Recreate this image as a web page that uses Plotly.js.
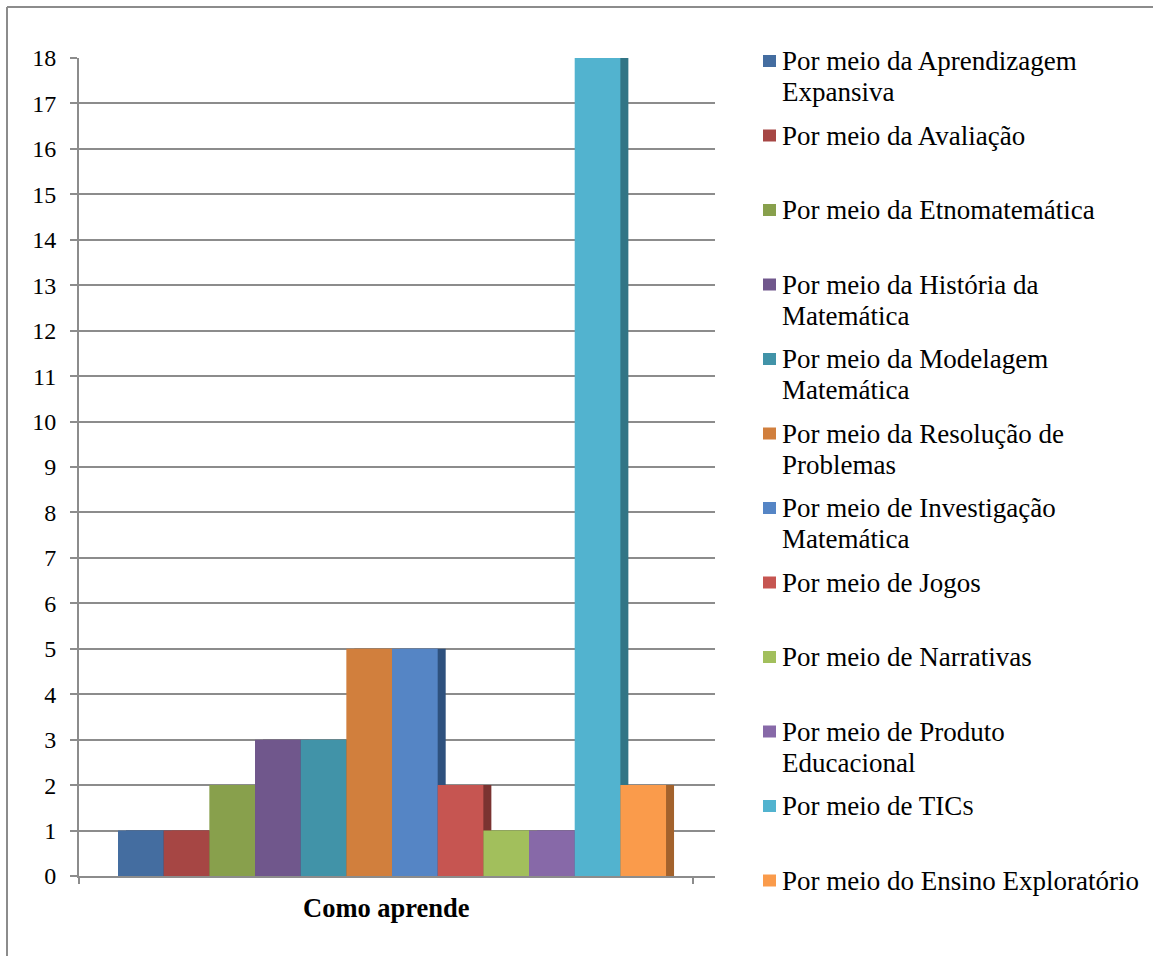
<!DOCTYPE html>
<html>
<head>
<meta charset="utf-8">
<script src="https://cdn.plot.ly/plotly-3.0.1.min.js"></script>
<style>
  html, body { margin: 0; padding: 0; background: #ffffff; }
  #chart { width: 1153px; height: 956px; }
</style>
</head>
<body>
<div id="chart"></div>
<script>
// ---- Data ----
const categories = ["Como aprende"];
const seriesNames = [
  "Por meio da Aprendizagem<br>Expansiva",
  "Por meio da Avaliação",
  "Por meio da Etnomatemática",
  "Por meio da História da<br>Matemática",
  "Por meio da Modelagem<br>Matemática",
  "Por meio da Resolução de<br>Problemas",
  "Por meio de Investigação<br>Matemática",
  "Por meio de Jogos",
  "Por meio de Narrativas",
  "Por meio de Produto<br>Educacional",
  "Por meio de TIC<span style='font-size:21px'>S</span>",
  "Por meio do Ensino Exploratório"
];
const seriesValues = [1, 1, 2, 3, 3, 5, 5, 2, 1, 1, 18, 2];
const yTickValues = [0,1,2,3,4,5,6,7,8,9,10,11,12,13,14,15,16,17,18];

// ---- Styles ----
const frontColors = ["#446DA0","#A64644","#88A04C","#70578C","#4193A8","#D17F3D",
                     "#5585C5","#C65551","#A2BF5C","#8769A8","#52B3CF","#FA9B4B"];
const sideColors  = ["#2C4A70","#733030","#5E7034","#4D3C62","#2C6776","#93592A",
                     "#2E517E","#7A3331","#71853F","#5E4975","#317586","#A3622C"];

const W = 1153, H = 956;
const plotL = 79, plotR = 715, plotT = 58, plotB = 876;
const pxPerUnit = 614;                 // distance between category boundary ticks
const barLeftPx = 118, barWPx = 45.67, sideDepthPx = 8;
const serif = "'Times New Roman', 'Liberation Serif', Tinos, 'DejaVu Serif', serif";
const gridGray = "#8C8C8C";

const toX = px => (px - plotL) / pxPerUnit;                 // data x
const pX = px => (px - plotL) / (plotR - plotL);            // paper x
const pY = py => (plotB - py) / (plotB - plotT);            // paper y

const barW = barWPx / pxPerUnit;
const sideD = sideDepthPx / pxPerUnit;
const startX = toX(barLeftPx);

const traces = [];
// side (depth) faces first, drawn behind
seriesValues.forEach((v, i) => {
  traces.push({
    type: "bar", x: [0], y: [v], base: 0,
    offset: startX + i * barW + sideD, width: barW,
    marker: { color: sideColors[i], line: { width: 0 } },
    showlegend: false, hoverinfo: "skip"
  });
});
// front faces
seriesValues.forEach((v, i) => {
  traces.push({
    type: "bar", x: [0], y: [v], base: 0,
    name: seriesNames[i].replace(/<br>/g, " "),
    offset: startX + i * barW, width: barW,
    marker: { color: frontColors[i], line: { width: 0 } },
    showlegend: false,
    hovertemplate: categories[0] + ": %{y}<extra></extra>"
  });
});

// manual legend
const shapes = [];
const annotations = [];
const legTop = 61, legStep = 74.5, lineGap = 31;
seriesNames.forEach((name, i) => {
  const yc = legTop + i * legStep;
  shapes.push({
    type: "rect", xref: "paper", yref: "paper",
    x0: pX(763), x1: pX(776), y0: pY(yc + 6), y1: pY(yc - 6),
    fillcolor: frontColors[i], line: { width: 0 }
  });
  name.split("<br>").forEach((line, j) => {
    annotations.push({
      xref: "paper", yref: "paper", x: pX(780), y: pY(yc + j * lineGap),
      xanchor: "left", yanchor: "middle", showarrow: false,
      text: line, font: { family: serif, size: 27, color: "#000000" }
    });
  });
});

// category label
annotations.push({
  xref: "x", yref: "paper", x: 0.5, y: pY(908),
  xanchor: "center", yanchor: "middle", showarrow: false,
  text: "<b>" + categories[0] + "</b>",
  font: { family: serif, size: 26.5, color: "#000000" }
});

// outer frame (top and left edges)
shapes.push({ type: "line", xref: "paper", yref: "paper",
  x0: pX(7), x1: pX(W + 5), y0: pY(7), y1: pY(7), line: { color: gridGray, width: 2 } });
shapes.push({ type: "line", xref: "paper", yref: "paper",
  x0: pX(7), x1: pX(7), y0: pY(7), y1: pY(H + 5), line: { color: gridGray, width: 2 } });

const layout = {
  width: W, height: H,
  font: { family: serif, color: "#000000" },
  margin: { l: plotL, r: W - plotR, t: plotT, b: H - plotB, pad: 0 },
  paper_bgcolor: "#ffffff", plot_bgcolor: "#ffffff",
  barmode: "overlay",
  showlegend: false,
  xaxis: {
    type: "linear", range: [0, (plotR - plotL) / pxPerUnit],
    tickvals: [0, 1], ticktext: ["", ""], showticklabels: false,
    ticks: "outside", ticklen: 6, tickwidth: 2, tickcolor: gridGray,
    showline: true, linecolor: gridGray, linewidth: 2,
    showgrid: false, zeroline: false, fixedrange: true
  },
  yaxis: {
    range: [0, 18], tickvals: yTickValues,
    ticks: "outside", ticklen: 7, tickwidth: 2, tickcolor: gridGray,
    ticklabelstandoff: 9,
    tickfont: { family: serif, size: 24, color: "#000000" },
    showline: true, linecolor: gridGray, linewidth: 2,
    showgrid: true, gridcolor: gridGray, gridwidth: 2,
    zeroline: false, fixedrange: true
  },
  shapes: shapes,
  annotations: annotations
};

Plotly.newPlot("chart", traces, layout, { displayModeBar: false, staticPlot: false });
</script>
</body>
</html>
